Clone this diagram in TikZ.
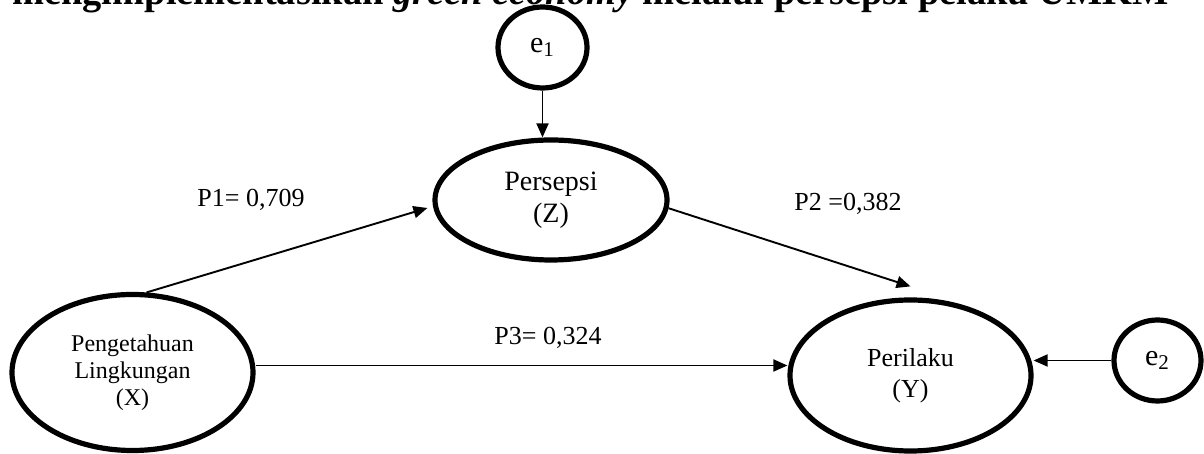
\documentclass[tikz,border=0pt]{standalone}
\usepackage{fontspec}
\setmainfont{Liberation Serif}
\usetikzlibrary{arrows.meta, shapes.geometric}
\tikzset{
  latent/.style={ellipse, draw, line width=2.6pt, inner sep=0pt, align=center},
  errvar/.style={ellipse, draw, line width=2.6pt, inner sep=0pt, font=\fontsize{15}{17}\selectfont},
  link/.style={-{Triangle[length=7pt, width=6pt]}, line width=0.95pt},
  coef/.style={font=\fontsize{13}{15}\selectfont}
}

\begin{document}
\begin{tikzpicture}[x=0.5pt, y=0.5pt]

\useasboundingbox (0,0) rectangle (1204,454);
\clip (0,0) rectangle (1204,454);

% judul (terpotong di atas)
\node[anchor=base west, inner sep=0pt, font=\fontsize{19.2}{22}\selectfont\bfseries] (title)
  at (12,449) {mengimplementasikan \textit{green economy} melalui persepsi pelaku UMKM};

% variabel laten
\node[latent, minimum width=116pt, minimum height=60pt, font=\fontsize{14}{16}\selectfont]
  (Z) at (551,254) {Persepsi\\(Z)};
\node[latent, minimum width=120.5pt, minimum height=78pt, font=\fontsize{12}{13.5}\selectfont]
  (X) at (132.5,81.5) {Pengetahuan\\Lingkungan\\(X)};
\node[latent, minimum width=120.5pt, minimum height=75.5pt, font=\fontsize{13}{15.5}\selectfont]
  (Y) at (910.5,78.5) {Perilaku\\(Y)};

% error
\node[errvar, minimum width=44.5pt, minimum height=40.5pt] (e1) at (542.5,406.5) {e\textsubscript{1}};
\node[errvar, minimum width=43.5pt, minimum height=40.5pt] (e2) at (1157.5,93.5) {e\textsubscript{2}};

% jalur
\draw[link] (e1.south) -- (e1.south |- Z.north);
\draw[link] (X.80) -- ([xshift=-2.5pt, yshift=-4pt]Z.west);
\draw[link] (Z.-4) -- ([yshift=5.5pt]Y.north);
\draw[link] ([yshift=3.5pt]X.east) -- ([yshift=5pt]Y.west);
\draw[link] (e2.west) -- (e2.west -| Y.east);

% koefisien
\node[coef] (p1) at (251,254) {P1= 0,709};
\node[coef] (p2) at (848,250) {P2 =0,382};
\node[coef] (p3) at (548,116) {P3= 0,324};

\end{tikzpicture}
\end{document}
